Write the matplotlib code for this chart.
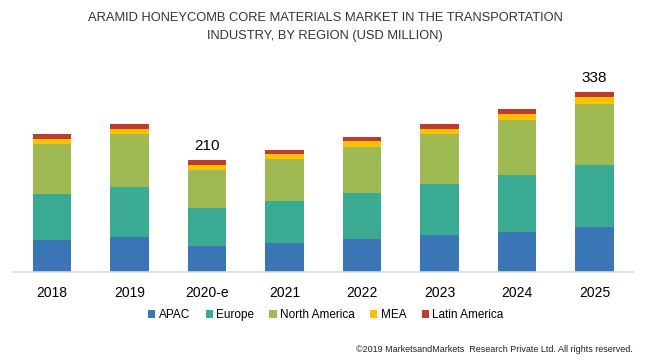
import numpy as np
import matplotlib.pyplot as plt

plt.rcParams['font.family'] = ['Liberation Sans', 'DejaVu Sans']

years = ["2018", "2019", "2020-e", "2021", "2022", "2023", "2024", "2025"]
apac = [60.7, 65.7, 49.0, 55.0, 62.5, 68.9, 75.7, 85.1]
europe = [85.8, 94.5, 71.5, 78.3, 85.3, 95.8, 106.5, 115.6]
north_america = [94.5, 99.0, 72.0, 79.4, 87.5, 94.5, 103.3, 115.9]
mea = [10.1, 10.7, 9.5, 9.4, 11.3, 10.0, 11.3, 12.6]
latin_america = [8.1, 9.4, 8.0, 8.3, 7.5, 10.1, 9.4, 8.8]
shown_totals = {2: "210", 7: "338"}

series = [("APAC", apac, "#3A76B6"),
          ("Europe", europe, "#3AAA92"),
          ("North America", north_america, "#9FBA52"),
          ("MEA", mea, "#FFC000"),
          ("Latin America", latin_america, "#BE3B2F")]

fig = plt.figure(figsize=(6.5, 3.64), dpi=100)
ax = fig.add_axes([13.25 / 650, 92 / 364, 620 / 650, 202 / 364])

x = np.arange(len(years))
bottom = np.zeros(len(years))
for name, vals, col in series:
    ax.bar(x, vals, bottom=bottom, width=0.5, color=col, label=name)
    bottom += np.array(vals)

for i, txt in shown_totals.items():
    ax.text(x[i], bottom[i] + 13, txt, ha='center', va='bottom', fontsize=11)

ax.set_xlim(-0.5, len(years) - 0.5)
ax.set_ylim(0, 380)
ax.set_xticks(x)
ax.set_xticklabels(years, fontsize=10)
ax.set_yticks([])
ax.tick_params(axis='x', length=0, pad=10)
for s in ['top', 'right', 'left']:
    ax.spines[s].set_visible(False)
ax.spines['bottom'].set_color('#d9d9d9')
ax.spines['bottom'].set_linewidth(1.2)

fig.text(0.5, 1 - 18 / 364, "ARAMID HONEYCOMB CORE MATERIALS MARKET IN THE TRANSPORTATION",
         ha='center', va='center', fontsize=9.3, color='#333333')
fig.text(0.5, 1 - 36 / 364, "INDUSTRY, BY REGION (USD MILLION)",
         ha='center', va='center', fontsize=9.3, color='#333333')

fig.legend(loc='center', bbox_to_anchor=(326 / 650, 1 - 315 / 364), ncol=5,
           frameon=False, fontsize=8.5, handlelength=0.6, handleheight=0.6,
           handletextpad=0.3, columnspacing=1.3)

fig.text(633 / 650, 1 - 349 / 364,
         "\u00a92019 MarketsandMarkets  Research Private Ltd. All rights reserved.",
         ha='right', va='center', fontsize=6.5, color='#222222')

fig.savefig("out.png", dpi=100)
